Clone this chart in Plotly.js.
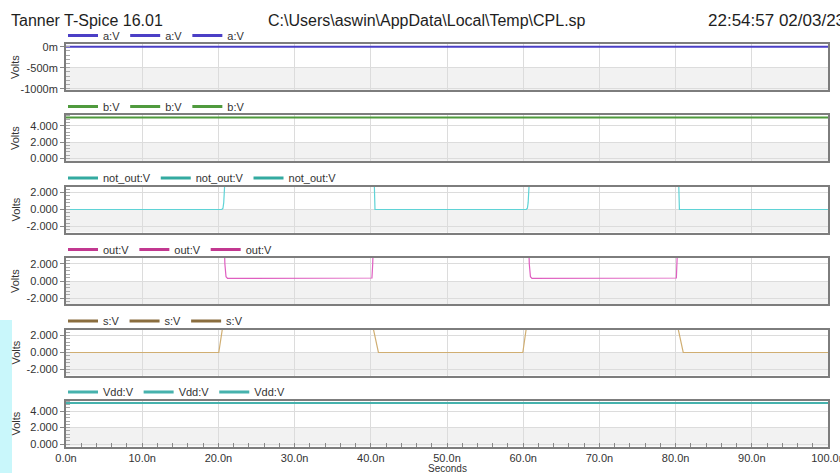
<!DOCTYPE html>
<html><head><meta charset="utf-8">
<script src="https://cdn.plot.ly/plotly-3.0.1.min.js"></script>
<style>html,body{margin:0;padding:0;background:#fff;overflow:hidden}#chart{width:840px;height:473px}</style>
</head><body><div id="chart"></div>
<script>
// ---------------- data (time in ns, values in V) ----------------
const timeA = [0, 100];
const aV = [0, 0];
const timeB = [0, 100];
const bV = [5, 5];
const timeNotOut = [0, 20.45, 20.6, 20.7, 20.8, 20.95, 40.4, 40.45, 40.55, 60.4, 60.55, 60.65, 60.75, 60.9, 80.35, 80.4, 80.5, 100];
const notOutV    = [0, 0,     0.15, 0.8,  2.5,  5,     5,    2,     0,     0,    0.15,  0.8,   2.5,   5,    5,     2,    0,    0];
const timeOut = [0, 20.75, 20.85, 21.0, 21.2, 40.15, 40.25, 40.35, 60.7, 60.8, 60.95, 61.15, 80.1, 80.2, 80.3, 100];
const outV    = [5, 5,     2,     0.5,  0.3,  0.35,  2,     5,     5,    2,    0.5,   0.3,   0.35, 2,    5,    5];
const timeS = [0, 20.05, 20.9, 39.8, 41.0, 59.95, 60.75, 79.8, 81.0, 100];
const sV    = [0, 0,     5,    5,    0,    0,     5,     5,    0,    0];
const timeVdd = [0, 100];
const vddV = [5, 5];
const signalNames = ['a:V', 'b:V', 'not_out:V', 'out:V', 's:V', 'Vdd:V'];
const xTickVals = [0, 10, 20, 30, 40, 50, 60, 70, 80, 90, 100];
const xTickText = ['0.0n', '10.0n', '20.0n', '30.0n', '40.0n', '50.0n', '60.0n', '70.0n', '80.0n', '90.0n', '100.0n'];
const aTickVals = [-1, -0.5, 0];
const aTickText = ['-1000m', '-500m', '0m'];
const posTickVals = [0, 2, 4];
const posTickText = ['0.000', '2.000', '4.000'];
const symTickVals = [-2, 0, 2];
const symTickText = ['-2.000', '0.000', '2.000'];
const headerLeft = 'Tanner T-Spice 16.01';
const headerMid = 'C:\\Users\\aswin\\AppData\\Local\\Temp\\CPL.sp';
const headerRight = '22:54:57 02/03/23';
const xTitle = 'Seconds';
const yTitle = 'Volts';

// ---------------- styling / layout ----------------
const W = 840, H = 473, L = 66, R = 12, PW = W - L - R;
const px2x = p => (p - L) / PW;
const px2y = p => (H - p) / H;
const FONT = 'Liberation Sans, Arial, sans-serif';
const panelTops = [44, 115, 186.5, 258, 329.5, 400.5];
const panelH = 46;
const legendY = [35.5, 106.5, 178, 249.5, 321, 392];

const series = [
  {t: timeA, v: aV, range: [-1.03, 0.065], tv: aTickVals, tt: aTickText, minor: 0.1, band: -0.5, lc: '#4b3fc6', dc: '#4b3fc6', dw: 2},
  {t: timeB, v: bV, range: [-0.3, 5.3], tv: posTickVals, tt: posTickText, minor: 0.4, band: 2, lc: '#4f9a3d', dc: '#4f9a3d', dw: 2},
  {t: timeNotOut, v: notOutV, range: [-2.7, 2.7], tv: symTickVals, tt: symTickText, minor: 0.4, band: 0, lc: '#33aaa0', dc: '#5fd3d6', dw: 1.2},
  {t: timeOut, v: outV, range: [-2.7, 2.7], tv: symTickVals, tt: symTickText, minor: 0.4, band: 0, lc: '#c23890', dc: '#df5fc0', dw: 1.2},
  {t: timeS, v: sV, range: [-2.7, 2.7], tv: symTickVals, tt: symTickText, minor: 0.4, band: 0, lc: '#8a6d3e', dc: '#d0ae72', dw: 1.2},
  {t: timeVdd, v: vddV, range: [-0.3, 5.3], tv: posTickVals, tt: posTickText, minor: 0.4, band: 2, lc: '#46b2ad', dc: '#46b2ad', dw: 2}
];

const traces = [];
const layout = {
  width: W, height: H,
  margin: {l: L, r: R, t: 0, b: 0, pad: 0},
  paper_bgcolor: '#ffffff', plot_bgcolor: 'rgba(0,0,0,0)',
  font: {family: FONT, size: 11, color: '#333333'},
  showlegend: true,
  shapes: [], annotations: []
};

series.forEach((s, i) => {
  const n = i + 1;
  const xk = 'x' + (i ? n : ''), yk = 'y' + (i ? n : '');
  const lk = 'legend' + (i ? n : '');
  const top = panelTops[i], bot = top + panelH;
  traces.push({x: s.t, y: s.v, xaxis: xk, yaxis: yk, mode: 'lines', name: signalNames[i],
    showlegend: false, line: {color: s.dc, width: s.dw}, hoverinfo: 'skip'});
  for (let k = 0; k < 3; k++) {
    traces.push({x: [null], y: [null], xaxis: xk, yaxis: yk, mode: 'lines', name: signalNames[i],
      legend: lk, showlegend: true, line: {color: s.lc, width: 3}, hoverinfo: 'skip'});
  }
  const last = i === 5;
  layout['xaxis' + (i ? n : '')] = {
    domain: [0, 1], anchor: yk, range: [0, 100], fixedrange: true,
    tickvals: xTickVals, ticktext: xTickText, showticklabels: last, ticklabeloverflow: 'allow',
    ticks: last ? 'inside' : '', ticklen: 4, tickcolor: '#888888',
    minor: last ? {ticks: 'inside', dtick: 2, ticklen: 4, tickcolor: '#888888', showgrid: false} : undefined,
    showgrid: true, gridcolor: '#dcdcdc', gridwidth: 1, zeroline: false,
    showline: true, mirror: true, linecolor: '#7d7d7d', linewidth: 2,
    tickfont: {family: FONT, size: 11, color: '#333333'}
  };
  layout['yaxis' + (i ? n : '')] = {
    domain: [px2y(bot), px2y(top)], anchor: xk, range: s.range, fixedrange: true,
    tickvals: s.tv, ticktext: s.tt, ticks: 'outside', ticklen: 4, tickcolor: '#888888',
    minor: {ticks: 'inside', dtick: s.minor, ticklen: 4, tickcolor: '#aaaaaa', showgrid: false},
    showgrid: true, gridcolor: '#dcdcdc', gridwidth: 1, zeroline: false,
    showline: true, mirror: true, linecolor: '#7d7d7d', linewidth: 2,
    tickfont: {family: FONT, size: 11, color: '#333333'}
  };
  layout[lk] = {orientation: 'h', x: px2x(63), xanchor: 'left', y: px2y(legendY[i]), yanchor: 'middle',
    bgcolor: 'rgba(0,0,0,0)', font: {family: FONT, size: 11, color: '#333333'}, itemclick: false, itemdoubleclick: false};
  layout.shapes.push({type: 'rect', xref: xk + ' domain', yref: yk, x0: 0, x1: 1, y0: s.range[0], y1: s.band,
    fillcolor: '#f2f2f2', line: {width: 0}, layer: 'below'});
  layout.annotations.push({text: yTitle, textangle: -90, xref: 'paper', yref: 'paper',
    x: px2x(15), y: px2y(top + panelH / 2), xanchor: 'center', yanchor: 'middle', showarrow: false,
    font: {family: FONT, size: 11, color: '#333333'}});
});

layout.shapes.push({type: 'rect', xref: 'paper', yref: 'paper', x0: px2x(0), x1: px2x(12), y0: px2y(473), y1: px2y(320),
  fillcolor: '#c9f7fb', line: {width: 0}, layer: 'below'});

layout.annotations.push({text: xTitle, xref: 'paper', yref: 'paper', x: px2x(447), y: px2y(468), xanchor: 'center', yanchor: 'middle',
  showarrow: false, font: {family: FONT, size: 10, color: '#333333'}});
layout.annotations.push({text: headerLeft, xref: 'paper', yref: 'paper', x: px2x(9), y: px2y(20), xanchor: 'left', yanchor: 'middle',
  showarrow: false, font: {family: FONT, size: 16, color: '#1e1e1e'}});
layout.annotations.push({text: headerMid, xref: 'paper', yref: 'paper', x: px2x(266), y: px2y(20), xanchor: 'left', yanchor: 'middle',
  showarrow: false, font: {family: FONT, size: 16, color: '#1e1e1e'}});
layout.annotations.push({text: headerRight, xref: 'paper', yref: 'paper', x: px2x(706), y: px2y(20), xanchor: 'left', yanchor: 'middle',
  showarrow: false, font: {family: FONT, size: 17, color: '#1e1e1e'}});

Plotly.newPlot('chart', traces, layout, {displayModeBar: false, staticPlot: true});
</script></body></html>
